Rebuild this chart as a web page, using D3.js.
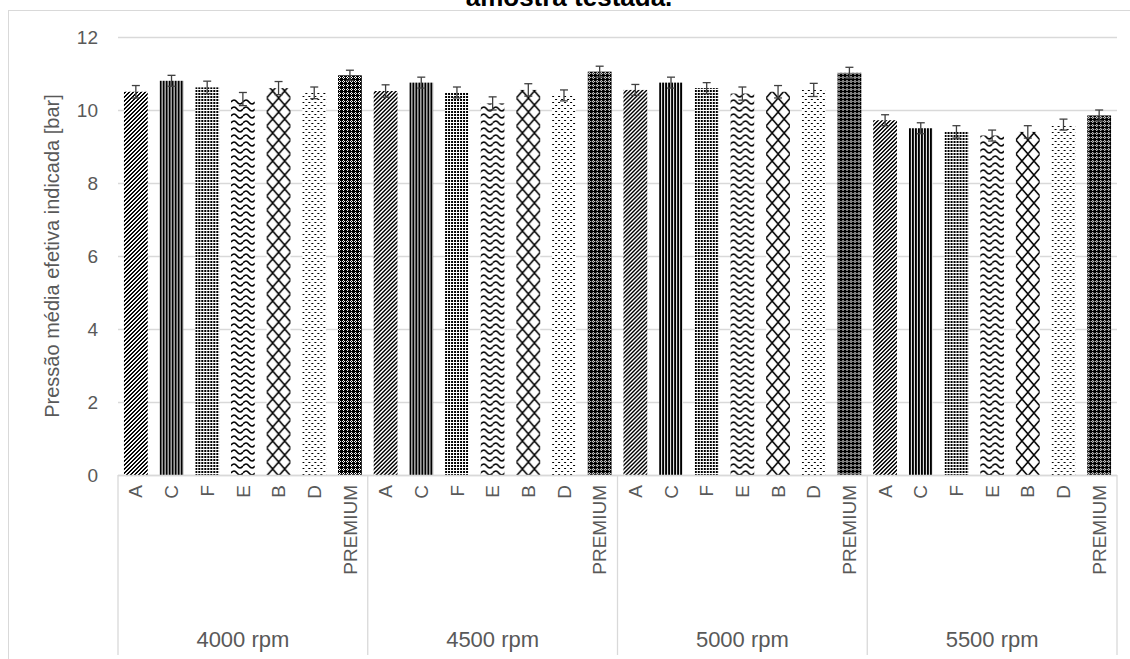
<!DOCTYPE html>
<html>
<head>
<meta charset="utf-8">
<script src="https://cdn.jsdelivr.net/npm/d3@7"></script>
<style>
  html, body { margin: 0; padding: 0; background: #fff; }
  svg { display: block; font-family: "Liberation Sans", Arial, sans-serif; }
</style>
</head>
<body>
<svg id="chart" width="1130" height="659"></svg>
<script>
// Engine speeds (outer category) and tested samples (inner category)
const groups = ["4000 rpm", "4500 rpm", "5000 rpm", "5500 rpm"];
const samples = ["A", "C", "F", "E", "B", "D", "PREMIUM"];

// Indicated mean effective pressure [bar], one array per speed, in sample order
const imep4000 = [10.50, 10.80, 10.62, 10.30, 10.60, 10.47, 10.95];
const imep4500 = [10.52, 10.75, 10.48, 10.18, 10.55, 10.40, 11.05];
const imep5000 = [10.55, 10.75, 10.60, 10.45, 10.50, 10.55, 11.02];
const imep5500 = [9.72, 9.50, 9.40, 9.30, 9.40, 9.60, 9.85];

// Error bar half-widths [bar]
const err4000 = [0.17, 0.15, 0.17, 0.18, 0.18, 0.16, 0.14];
const err4500 = [0.17, 0.15, 0.15, 0.18, 0.17, 0.15, 0.15];
const err5000 = [0.15, 0.15, 0.15, 0.18, 0.17, 0.18, 0.15];
const err5500 = [0.15, 0.15, 0.17, 0.15, 0.17, 0.15, 0.15];

const yTicks = [0, 2, 4, 6, 8, 10, 12];

const titleLine = "amostra testada.";
const yTitle = "Pressão média efetiva indicada [bar]";

const valuesByGroup = [imep4000, imep4500, imep5000, imep5500];
const errorsByGroup = [err4000, err4500, err5000, err5500];

const rows = [];
groups.forEach((g, gi) => {
  samples.forEach((s, si) => {
    rows.push({ group: g, sample: s, value: valuesByGroup[gi][si], err: errorsByGroup[gi][si] });
  });
});

const svg = d3.select("#chart");
const textColor = "#595959";
const gridColor = "#d9d9d9";

const plot = { left: 118, right: 1117, top: 37, bottom: 475 };

const x0 = d3.scaleBand().domain(groups).range([plot.left, plot.right]).padding(0);
const x1 = d3.scaleBand().domain(samples).range([0, x0.bandwidth()])
  .paddingInner(1 / 3).paddingOuter(1 / 6);
const y = d3.scaleLinear().domain([0, 12]).range([plot.bottom, plot.top]);

// ---------- fill patterns ----------
const defs = svg.append("defs");

function bitmapPattern(id, rows, on, off) {
  const h = rows.length, w = rows[0].length;
  const p = defs.append("pattern").attr("id", id)
    .attr("patternUnits", "userSpaceOnUse").attr("width", w).attr("height", h);
  p.append("rect").attr("width", w).attr("height", h).attr("fill", off);
  rows.forEach((r, yy) => {
    for (let xx = 0; xx < w; xx++) {
      if (r[xx] === "1") {
        p.append("rect").attr("x", xx).attr("y", yy).attr("width", 1).attr("height", 1)
          .attr("fill", on).attr("shape-rendering", "crispEdges");
      }
    }
  });
}

// A: dark upward diagonal
bitmapPattern("pat-A", ["1100", "1001", "0011", "0110"], "#000", "#fff");
// C: dark vertical
bitmapPattern("pat-C", ["110", "110"], "#000", "#fff");
// F: small dot grid
bitmapPattern("pat-F", ["110", "110", "000"], "#000", "#fff");
// D: sparse staggered dots
bitmapPattern("pat-D", ["110000", "000000", "000000", "000110", "000000", "000000"], "#000", "#fff");
// PREMIUM: dense dark
bitmapPattern("pat-PREMIUM", ["1011", "0101", "1011", "1111"], "#000", "#fff");

// E: wave
{
  const p = defs.append("pattern").attr("id", "pat-E")
    .attr("patternUnits", "userSpaceOnUse").attr("width", 12).attr("height", 7);
  p.append("rect").attr("width", 12).attr("height", 7).attr("fill", "#fff");
  p.append("path").attr("d", "M0,4 Q3,0 6,4 T12,4")
    .attr("fill", "none").attr("stroke", "#000").attr("stroke-width", 1.6);
}
// B: large outlined diamond
{
  const p = defs.append("pattern").attr("id", "pat-B")
    .attr("patternUnits", "userSpaceOnUse").attr("width", 12).attr("height", 14);
  p.append("rect").attr("width", 12).attr("height", 14).attr("fill", "#fff");
  p.append("path").attr("d", "M0,0 L12,14 M12,0 L0,14")
    .attr("fill", "none").attr("stroke", "#000").attr("stroke-width", 1.5);
}

// ---------- frame ----------
svg.append("line").attr("x1", 8).attr("x2", 1130).attr("y1", 10.5).attr("y2", 10.5)
  .attr("stroke", gridColor).attr("stroke-width", 1);
svg.append("line").attr("x1", 8.5).attr("x2", 8.5).attr("y1", 10).attr("y2", 659)
  .attr("stroke", gridColor).attr("stroke-width", 1);

// Title (second line)
svg.append("text").attr("x", 569).attr("y", 6).attr("text-anchor", "middle")
  .attr("font-size", 26).attr("font-weight", "bold").attr("fill", "#000")
  .text(titleLine);

// ---------- gridlines and y axis ----------
const yAxis = d3.axisLeft(y).tickValues(yTicks).tickSize(-(plot.right - plot.left)).tickPadding(20);
const gy = svg.append("g").attr("transform", `translate(${plot.left},0)`).call(yAxis);
gy.select(".domain").remove();
gy.selectAll(".tick line").attr("stroke", gridColor).attr("stroke-width", 1.3);
gy.selectAll(".tick text").attr("fill", textColor).attr("font-size", 19)
  .attr("font-family", "'Liberation Sans', Arial, sans-serif");

// y title
svg.append("text")
  .attr("transform", `translate(59,${(plot.top + plot.bottom) / 2}) rotate(-90)`)
  .attr("text-anchor", "middle").attr("font-size", 20).attr("fill", textColor)
  .text(yTitle);

// ---------- bars ----------
const barGroups = svg.append("g").selectAll("g")
  .data(rows).join("g")
  .attr("transform", d => `translate(${x0(d.group) + x1(d.sample)},0)`);

barGroups.append("rect")
  .attr("x", 0)
  .attr("y", d => y(d.value))
  .attr("width", x1.bandwidth())
  .attr("height", d => y(0) - y(d.value))
  .attr("fill", d => `url(#pat-${d.sample})`);

// error bars
const bw = x1.bandwidth();
const cap = 4;
barGroups.append("line")
  .attr("x1", bw / 2).attr("x2", bw / 2)
  .attr("y1", d => y(d.value - d.err)).attr("y2", d => y(d.value + d.err))
  .attr("stroke", "#404040").attr("stroke-width", 1.3);
barGroups.append("line")
  .attr("x1", bw / 2 - cap).attr("x2", bw / 2 + cap)
  .attr("y1", d => y(d.value + d.err)).attr("y2", d => y(d.value + d.err))
  .attr("stroke", "#404040").attr("stroke-width", 1.3);
barGroups.append("line")
  .attr("x1", bw / 2 - cap).attr("x2", bw / 2 + cap)
  .attr("y1", d => y(d.value - d.err)).attr("y2", d => y(d.value - d.err))
  .attr("stroke", "#404040").attr("stroke-width", 1.3);

// ---------- category axis ----------
svg.append("line").attr("x1", plot.left).attr("x2", plot.right)
  .attr("y1", plot.bottom + 0.5).attr("y2", plot.bottom + 0.5)
  .attr("stroke", gridColor).attr("stroke-width", 1.3);

const bounds = groups.map(g => x0(g)).concat([plot.right]);
svg.append("g").selectAll("line").data(bounds).join("line")
  .attr("x1", d => d).attr("x2", d => d)
  .attr("y1", plot.bottom).attr("y2", 655)
  .attr("stroke", gridColor).attr("stroke-width", 1.3);

// inner labels (rotated)
svg.append("g").selectAll("text").data(rows).join("text")
  .attr("transform", d => `translate(${x0(d.group) + x1(d.sample) + bw / 2},485) rotate(-90)`)
  .attr("text-anchor", "end").attr("dy", "0.35em")
  .attr("font-size", 19).attr("fill", textColor)
  .text(d => d.sample);

// outer labels
svg.append("g").selectAll("text").data(groups).join("text")
  .attr("x", d => x0(d) + x0.bandwidth() / 2).attr("y", 647)
  .attr("text-anchor", "middle").attr("font-size", 22).attr("fill", textColor)
  .text(d => d);
</script>
</body>
</html>
